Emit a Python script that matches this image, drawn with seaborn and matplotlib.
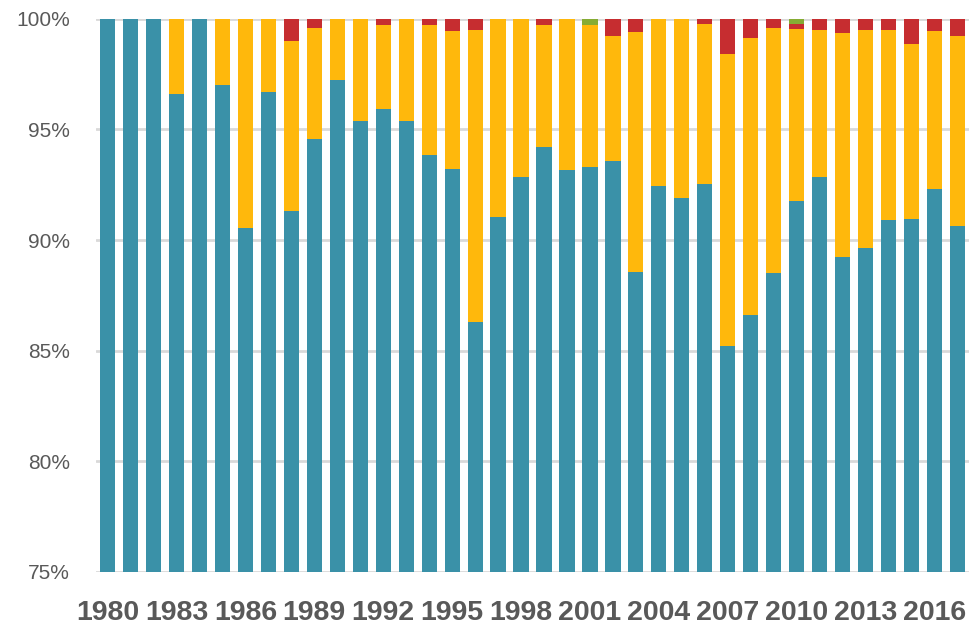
import numpy as np
import pandas as pd
import matplotlib
matplotlib.use("Agg")
import matplotlib.pyplot as plt
import seaborn as sns

years = list(range(1980, 2018))
teal = [100, 100, 100, 96.6, 100, 97.0, 90.55, 96.7, 91.3, 94.55,
        97.25, 95.4, 95.9, 95.4, 93.85, 93.2, 86.3, 91.05, 92.85, 94.2,
        93.15, 93.3, 93.55, 88.55, 92.45, 91.9, 92.55, 85.2, 86.6, 88.5,
        91.75, 92.85, 89.25, 89.65, 90.9, 90.95, 92.3, 90.65]
yellow = [0, 0, 0, 3.4, 0, 3.0, 9.45, 3.3, 7.7, 5.05,
          2.75, 4.6, 3.8, 4.6, 5.85, 6.25, 13.2, 8.95, 7.15, 5.5,
          6.85, 6.4, 5.65, 10.85, 7.55, 8.1, 7.2, 13.2, 12.55, 11.1,
          7.8, 6.65, 10.1, 9.85, 8.6, 7.9, 7.15, 8.55]
red = [0, 0, 0, 0, 0, 0, 0, 0, 1.0, 0.4,
       0, 0, 0.3, 0, 0.3, 0.55, 0.5, 0, 0, 0.3,
       0, 0, 0.8, 0.6, 0, 0, 0.25, 1.6, 0.85, 0.4,
       0.22, 0.5, 0.65, 0.5, 0.5, 1.15, 0.55, 0.8]
green = [0] * 38
green[21] = 0.3   # 2001
green[30] = 0.23  # 2010

colors = {"teal": "#3A91A8", "yellow": "#FFB80C", "red": "#C62D30", "green": "#86AC34"}

df = pd.DataFrame({"year": [str(y) for y in years], "teal": teal,
                   "yellow": yellow, "red": red, "green": green})
df["c_yellow"] = df["teal"] + df["yellow"]
df["c_red"] = df["c_yellow"] + df["red"]
df["c_green"] = df["c_red"] + df["green"]

sns.set_theme(style="white")
fig = plt.figure(figsize=(9.7, 6.25), dpi=100)
ax = fig.add_axes([0.099, 0.085, 0.9, 0.885])

w = 0.66
for col, c in [("c_green", colors["green"]), ("c_red", colors["red"]),
               ("c_yellow", colors["yellow"]), ("teal", colors["teal"])]:
    sns.barplot(data=df, x="year", y=col, color=c, width=w, ax=ax,
                saturation=1, linewidth=0, zorder=3)

ax.set_ylim(75, 100)
ax.set_xlim(-0.5, 37.5)
ax.set_yticks([75, 80, 85, 90, 95, 100])
ax.set_yticklabels([f"{v}%" for v in [75, 80, 85, 90, 95, 100]],
                   family="Liberation Sans", fontsize=15, color="#595959")
ax.set_xticks(list(range(0, 38, 3)))
ax.set_xticklabels([str(years[i]) for i in range(0, 38, 3)],
                   family="Liberation Sans", fontsize=20.5, fontweight="bold",
                   color="#595959")
ax.yaxis.grid(True, color="#D9D9D9", linewidth=2, zorder=0)
ax.set_axisbelow(True)
for s in ax.spines.values():
    s.set_visible(False)
ax.tick_params(axis="both", length=0)
ax.tick_params(axis="y", pad=19)
ax.tick_params(axis="x", pad=20)
ax.set_xlabel("")
ax.set_ylabel("")

fig.savefig("out.png", dpi=100)
